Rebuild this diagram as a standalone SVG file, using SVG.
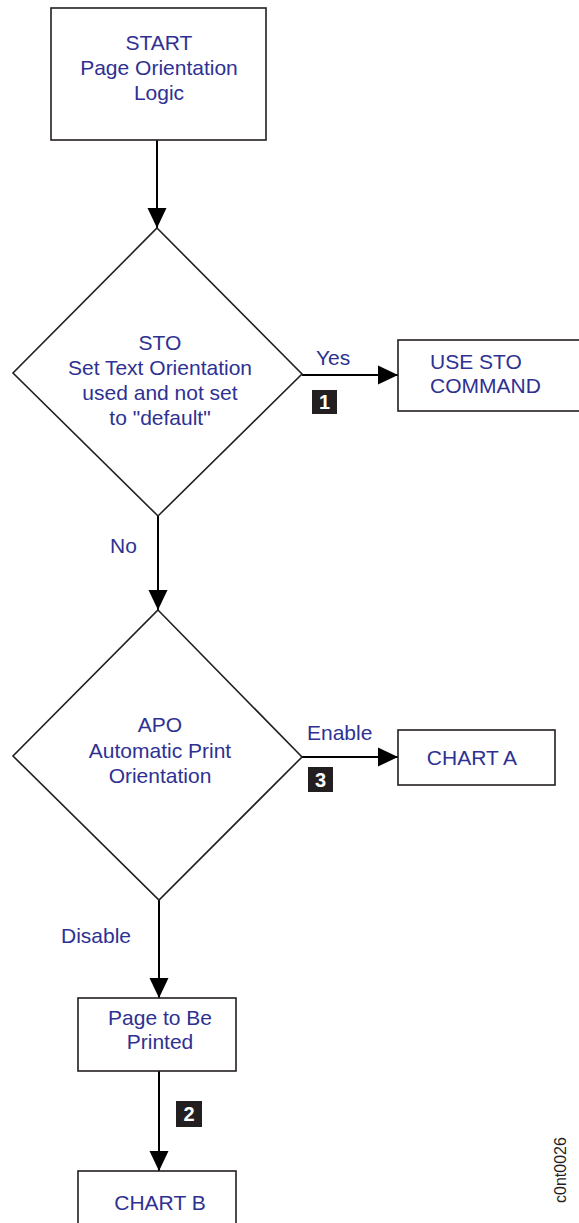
<svg xmlns="http://www.w3.org/2000/svg" width="579" height="1223" viewBox="0 0 579 1223">
<style>
.box{fill:#fff;stroke:#231f20;stroke-width:1.6}
.t{font-family:"Liberation Sans",Arial,sans-serif;font-size:21px;fill:#2e3192}
.c{text-anchor:middle}
.ln{stroke:#000;stroke-width:2;fill:none}
.bd{fill:#231f20}
.bt{font-family:"Liberation Sans",Arial,sans-serif;font-size:20px;font-weight:bold;fill:#fff;text-anchor:middle}
</style>
<defs>
<marker id="ah" viewBox="0 0 20 20" refX="20" refY="10" markerWidth="20" markerHeight="20" markerUnits="userSpaceOnUse" orient="auto">
<path d="M0,0.5 L20,10 L0,19.5 Z" fill="#000"/>
</marker>
</defs>
<g id="connectors">
<line class="ln" x1="157" y1="140" x2="157" y2="228" marker-end="url(#ah)"/>
<line class="ln" x1="302" y1="375" x2="398" y2="375" marker-end="url(#ah)"/>
<line class="ln" x1="158" y1="516" x2="158" y2="610" marker-end="url(#ah)"/>
<line class="ln" x1="302" y1="757" x2="398" y2="757" marker-end="url(#ah)"/>
<line class="ln" x1="159" y1="900" x2="159" y2="998" marker-end="url(#ah)"/>
<line class="ln" x1="159" y1="1071" x2="159" y2="1171" marker-end="url(#ah)"/>
<text class="t" x="316" y="365">Yes</text>
<rect class="bd" x="312" y="390" width="25" height="24"/>
<text class="bt" x="324.5" y="409">1</text>
<text class="t" x="110" y="553">No</text>
<text class="t" x="307" y="740">Enable</text>
<rect class="bd" x="308" y="767" width="25" height="25"/>
<text class="bt" x="320.5" y="787">3</text>
<text class="t" x="61" y="943">Disable</text>
<rect class="bd" x="176" y="1101" width="26" height="26"/>
<text class="bt" x="189" y="1121">2</text>
</g>
<g id="start">
<rect class="box" x="51" y="8" width="215" height="132"/>
<text class="t c" x="159" y="50">START</text>
<text class="t c" x="159" y="75">Page Orientation</text>
<text class="t c" x="159" y="100">Logic</text>
</g>
<g id="sto">
<polygon class="box" points="157,228 302,374 158,516 13,373"/>
<text class="t c" x="160" y="350">STO</text>
<text class="t c" x="160" y="375">Set Text Orientation</text>
<text class="t c" x="160" y="400">used and not set</text>
<text class="t c" x="160" y="425">to "default"</text>
</g>
<g id="usesto">
<rect class="box" x="398" y="340" width="185" height="71"/>
<text class="t" x="430" y="369">USE STO</text>
<text class="t" x="430" y="393">COMMAND</text>
</g>
<g id="apo">
<polygon class="box" points="158,610 302,757 159,900 13,756"/>
<text class="t c" x="160" y="732">APO</text>
<text class="t c" x="160" y="758">Automatic Print</text>
<text class="t c" x="160" y="783">Orientation</text>
</g>
<g id="charta">
<rect class="box" x="398" y="730" width="157" height="55"/>
<text class="t c" x="472" y="765">CHART A</text>
</g>
<g id="page">
<rect class="box" x="78" y="998" width="158" height="73"/>
<text class="t c" x="160" y="1025">Page to Be</text>
<text class="t c" x="160" y="1049">Printed</text>
</g>
<g id="chartb">
<rect class="box" x="78" y="1171" width="158" height="60"/>
<text class="t c" x="160" y="1210">CHART B</text>
</g>
<text x="566" y="1170" transform="rotate(-90 566 1170)" text-anchor="middle" font-family="Liberation Sans,Arial,sans-serif" font-size="16" fill="#231f20">c0nt0026</text>
</svg>
